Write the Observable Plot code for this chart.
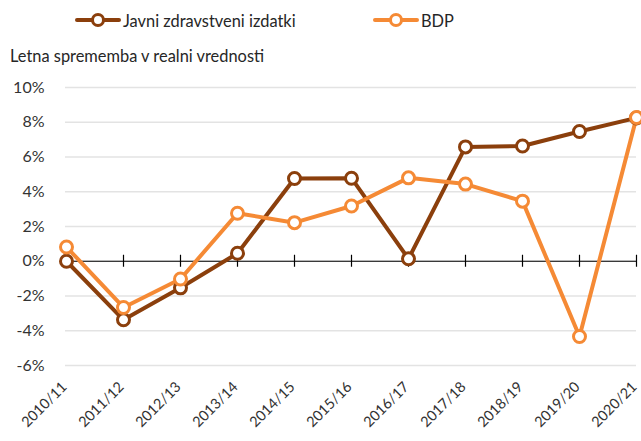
<!DOCTYPE html>
<html>
<head>
<meta charset="utf-8">
<script src="https://cdn.jsdelivr.net/npm/d3@7"></script>
<script src="https://cdn.jsdelivr.net/npm/@observablehq/plot@0.6"></script>
<style>
  body { margin: 0; background: #fff; font-family: Lato, "Noto Sans", sans-serif; color: #262626; }
  #legend { height: 38px; position: relative; font-size: 16.4px; }
  .item { position: absolute; top: 10px; display: flex; align-items: center; gap: 2px; }
  #subtitle { height: 32px; font-size: 16.4px; padding-left: 10px; line-height: 36px; }
  #chart svg { display: block; }
</style>
</head>
<body>
<div id="legend"></div>
<div id="subtitle">Letna sprememba v realni vrednosti</div>
<div id="chart"></div>
<script>
const years = ["2010/11","2011/12","2012/13","2013/14","2014/15","2015/16","2016/17","2017/18","2018/19","2019/20","2020/21"];
const javni = [0.0, -3.37, -1.53, 0.46, 4.76, 4.78, 0.14, 6.58, 6.63, 7.47, 8.25];
const bdp = [0.82, -2.66, -1.02, 2.76, 2.22, 3.18, 4.8, 4.44, 3.46, -4.33, 8.27];
const seriesNames = ["Javni zdravstveni izdatki", "BDP"];
const colors = ["#8b3f0c", "#f58a35"];
const yTicks = [-6, -4, -2, 0, 2, 4, 6, 8, 10];

const rows = [];
years.forEach((y, i) => {
  rows.push({year: y, value: javni[i], series: seriesNames[0]});
  rows.push({year: y, value: bdp[i], series: seriesNames[1]});
});

// legend
const legend = document.getElementById("legend");
const lefts = [75, 373];
seriesNames.forEach((name, i) => {
  const d = document.createElement("div");
  d.className = "item";
  d.style.left = lefts[i] + "px";
  d.innerHTML = `<svg width="46" height="20"><line x1="2" x2="44" y1="10" y2="10" stroke="${colors[i]}" stroke-width="4" stroke-linecap="round"/><circle cx="23" cy="10" r="5.5" fill="#fff" stroke="${colors[i]}" stroke-width="3"/></svg><span>${name}</span>`;
  legend.appendChild(d);
});

const plot = Plot.plot({
  width: 641,
  height: 371,
  marginTop: 17,
  marginBottom: 76,
  marginLeft: 65,
  marginRight: 5,
  style: {fontFamily: "Lato, 'Noto Sans', sans-serif", fontSize: "15px", color: "#333"},
  x: {type: "point", domain: years, padding: 0, label: null},
  y: {domain: [-6, 10], label: null},
  color: {domain: seriesNames, range: colors},
  marks: [
    Plot.gridY(yTicks, {stroke: "#e3e3e3", strokeOpacity: 1, strokeWidth: 1.5}),
    Plot.axisY(yTicks, {tickSize: 0, tickPadding: 21, tickFormat: d => d + "%", fontSize: 16, label: null}),
    Plot.axisX(years, {tickSize: 0, tickPadding: 19, tickRotate: -45, fontSize: 14.5, label: null, dx: -2}),
    Plot.ruleY([0], {stroke: "#000", strokeWidth: 1.2}),
    Plot.ruleX(years, {x: d => d, y1: 0, y2: 0, insetTop: -6, insetBottom: -6, stroke: "#000", strokeWidth: 1.2}),
    Plot.line(rows, {x: "year", y: "value", z: "series", stroke: "series", strokeWidth: 4, strokeLinejoin: "round"}),
    Plot.dot(rows, {x: "year", y: "value", stroke: "series", fill: "#fff", r: 6, strokeWidth: 3})
  ]
});
document.getElementById("chart").appendChild(plot);
</script>
</body>
</html>
